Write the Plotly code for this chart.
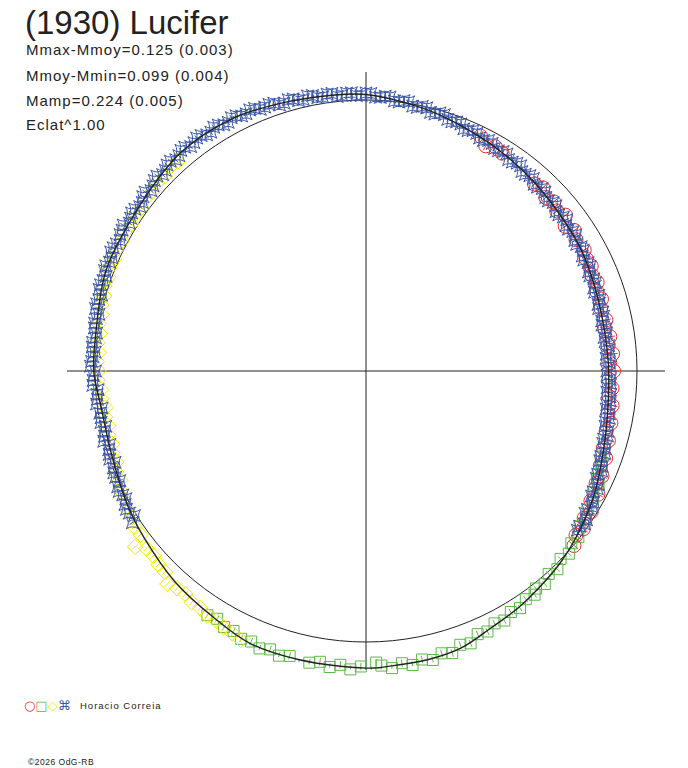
import plotly.graph_objects as go

# Polar light curve of (1930) Lucifer.
# Angles in degrees (phase * 360, 0 at top, clockwise), dm = mag - Mmoy.
fit_deg = [0, 12, 20, 30, 40, 50, 60, 69, 77, 88, 98, 109, 119, 129, 135, 141,
           147, 154, 161, 168, 175, 180, 193, 203, 212, 222, 233, 240, 251, 262,
           270, 279, 288, 293, 308, 320, 332, 342, 353, 360]
fit_dm = [-0.022, 0.008, 0.029, 0.052, 0.072, 0.090, 0.100, 0.114, 0.122, 0.121,
          0.112, 0.084, 0.045, 0.010, -0.009, -0.024, -0.041, -0.057, -0.084,
          -0.093, -0.096, -0.100, -0.097, -0.096, -0.072, -0.053, -0.026, -0.012,
          0.012, 0.015, -0.005, -0.008, -0.025, -0.032, -0.039, -0.060, -0.057,
          -0.040, -0.027, -0.022]

red_deg = [26, 28, 30, 32, 42, 44, 46, 48, 50, 52, 54, 56, 58, 61, 63, 65, 67, 69,
           71, 73, 75, 78, 80, 82, 84, 86, 88, 90, 92, 94, 96, 98, 100, 102, 104,
           106, 108, 110, 112, 114, 116, 118, 120, 122, 124, 126, 128, 130]
red_dm = [0.040, 0.066, 0.050, 0.058, 0.080, 0.068, 0.088, 0.076, 0.092, 0.074,
          0.104, 0.082, 0.098, 0.090, 0.100, 0.094, 0.108, 0.098, 0.114, 0.104,
          0.118, 0.108, 0.120, 0.104, 0.116, 0.100, 0.114, 0.098, 0.118, 0.102,
          0.112, 0.094, 0.106, 0.086, 0.098, 0.078, 0.090, 0.066, 0.076, 0.052,
          0.062, 0.034, 0.046, 0.022, 0.032, 0.010, 0.018, -0.002]

green_deg = [110, 112, 114, 116, 118, 120, 122, 124, 126, 128, 130, 132, 134, 136,
             138, 140, 142, 143, 145, 147, 149, 151, 153, 155, 157, 159, 161, 163,
             165, 167, 169, 171, 173, 175, 177, 178, 179, 181, 183, 185, 187, 189,
             191, 193, 195, 197, 199, 201, 203, 205, 207, 209, 211, 213]
green_dm = [0.088, 0.070, 0.072, 0.050, 0.056, 0.036, 0.040, 0.022, 0.028, 0.006,
            0.012, -0.008, 0.002, -0.018, -0.008, -0.028, -0.020, -0.036, -0.030,
            -0.046, -0.040, -0.056, -0.048, -0.064, -0.058, -0.080, -0.072, -0.092,
            -0.082, -0.098, -0.088, -0.102, -0.090, -0.104, -0.092, -0.080, -0.108,
            -0.094, -0.106, -0.092, -0.104, -0.090, -0.100, -0.108, -0.092, -0.102,
            -0.090, -0.100, -0.088, -0.094, -0.080, -0.084, -0.070, -0.078]

yellow_deg = [205, 207, 209, 211, 213, 215, 217, 219, 221, 223, 225, 227, 229, 231,
              232.7, 234, 236, 238, 240, 242, 244, 246, 248, 250, 252, 254, 256,
              258, 260, 262, 264, 266, 268, 270, 272, 274, 276, 278, 280, 282, 284,
              286, 288, 290, 292, 294, 296, 298, 300, 302, 304, 306, 308, 310, 312,
              314, 316, 318]
yellow_dm = [-0.098, -0.090, -0.086, -0.078, -0.080, -0.070, -0.072, -0.062, -0.066,
             -0.078, -0.052, -0.050, -0.042, -0.044, -0.074, -0.030, -0.032, -0.020,
             -0.022, -0.010, -0.008, 0.008, 0.006, 0.022, 0.018, 0.028, 0.022,
             0.030, 0.024, 0.032, 0.020, 0.022, 0.010, 0.014, 0.006, 0.012, 0.004,
             0.008, -0.002, 0.002, -0.008, -0.006, -0.016, -0.012, -0.022, -0.018,
             -0.026, -0.022, -0.030, -0.024, -0.032, -0.026, -0.036, -0.032, -0.040,
             -0.036, -0.046, -0.042]

blue_deg = [237, 239, 241, 243, 245, 247, 249, 251, 253, 255, 257, 259, 261, 263,
            265, 267, 269, 271, 273, 275, 277, 279, 281, 283, 285, 287, 289, 291,
            293, 295, 297, 299, 301, 303, 305, 307, 309, 311, 313, 315, 317, 319,
            321, 323, 325, 327, 329, 331, 333, 335, 337, 339, 341, 343, 345, 347,
            349, 351, 353, 355, 357, 359, 1, 3, 5, 7, 9, 11, 13, 15, 17, 19, 21, 23,
            25, 27, 29, 31, 33, 35, 37, 39, 41, 43, 45, 47, 49, 51, 53, 55, 57, 59,
            61, 63, 65, 67, 69, 71, 73, 75, 77, 79, 81, 83, 85, 87, 89, 91, 93, 95,
            97, 99, 101, 103, 105, 107, 109, 111, 113, 115, 117, 119, 121, 123, 125,
            127,
            238, 240, 242, 244, 246, 248, 250, 252, 254, 256, 258, 260, 262, 264,
            266, 268, 270, 272, 274, 276, 278, 280, 282, 284, 286, 288, 290, 292,
            294, 296, 298, 300, 302, 304, 306, 308, 310, 312, 314, 316, 318, 320,
            322, 324, 326, 328, 330, 332, 334, 336, 338, 340, 342, 344, 346, 348,
            350, 352, 354, 356, 358, 0, 2, 4, 6, 8, 10, 12, 14, 16, 18, 20, 22, 24,
            26, 28, 30, 32, 34, 36, 38, 40, 42, 44, 46, 48, 50, 52, 54, 56, 58, 60,
            62, 64, 66, 68, 70, 72, 74, 76, 78, 80, 82, 84, 86, 88, 90, 92, 94, 96,
            98, 100, 102, 104, 106, 108, 110, 112, 114, 116, 118, 120, 122, 124, 126]
blue_dm = [-0.030, -0.020, -0.018, -0.008, -0.012, -0.004, 0.001, 0.000, 0.008,
           -0.002, 0.010, 0.004, 0.006, -0.002, 0.004, -0.010, -0.006, -0.018,
           -0.010, -0.015, -0.006, -0.016, -0.014, -0.026, -0.022, -0.032, -0.028,
           -0.036, -0.030, -0.042, -0.036, -0.040, -0.048, -0.038, -0.044, -0.036,
           -0.052, -0.044, -0.058, -0.050, -0.062, -0.056, -0.066, -0.058, -0.064,
           -0.054, -0.062, -0.052, -0.060, -0.050, -0.056, -0.046, -0.048, -0.036,
           -0.042, -0.030, -0.038, -0.026, -0.034, -0.022, -0.030, -0.018, -0.026,
           -0.012, -0.016, 0.000, -0.006, 0.010, 0.004, 0.020, 0.012, 0.030, 0.026,
           0.040, 0.036, 0.050, 0.044, 0.058, 0.050, 0.066, 0.058, 0.074, 0.066,
           0.082, 0.074, 0.090, 0.080, 0.096, 0.082, 0.100, 0.088, 0.106, 0.094,
           0.112, 0.100, 0.118, 0.106, 0.124, 0.110, 0.128, 0.114, 0.130, 0.116,
           0.128, 0.114, 0.130, 0.112, 0.127, 0.110, 0.124, 0.105, 0.118, 0.098,
           0.108, 0.088, 0.098, 0.076, 0.086, 0.062, 0.070, 0.046, 0.054, 0.030,
           0.040, 0.018, 0.026,
           -0.008, -0.022, -0.004, -0.014, 0.006, -0.004, 0.016, 0.004, 0.018,
           0.006, 0.020, 0.008, 0.018, 0.004, 0.010, -0.008, 0.002, -0.014, -0.002,
           -0.016, -0.004, -0.018, -0.008, -0.026, -0.016, -0.032, -0.022, -0.038,
           -0.028, -0.040, -0.030, -0.042, -0.032, -0.046, -0.034, -0.048, -0.038,
           -0.054, -0.046, -0.060, -0.052, -0.066, -0.054, -0.066, -0.054, -0.064,
           -0.052, -0.062, -0.050, -0.058, -0.044, -0.050, -0.034, -0.044, -0.030,
           -0.040, -0.026, -0.034, -0.020, -0.030, -0.018, -0.028, -0.012, -0.018,
           -0.002, -0.008, 0.008, 0.002, 0.018, 0.010, 0.026, 0.024, 0.040, 0.032,
           0.048, 0.040, 0.058, 0.050, 0.066, 0.058, 0.074, 0.066, 0.082, 0.072,
           0.088, 0.080, 0.096, 0.086, 0.100, 0.090, 0.104, 0.094, 0.110, 0.100,
           0.116, 0.106, 0.122, 0.110, 0.126, 0.114, 0.128, 0.116, 0.130, 0.114,
           0.128, 0.116, 0.128, 0.112, 0.124, 0.108, 0.118, 0.100, 0.110, 0.090,
           0.100, 0.080, 0.088, 0.066, 0.072, 0.050, 0.056, 0.034, 0.040, 0.020,
           0.028]

# typical 1-sigma error per session (mag)
red_err, green_err, yellow_err, blue_err = 0.022, 0.014, 0.014, 0.012

info_lines = ["Mmax-Mmoy=0.125 (0.003)", "Mmoy-Mmin=0.099 (0.004)",
              "Mamp=0.224 (0.005)", "Eclat^1.00"]

W, H = 688, 768


def px(x):
    return x / W


def py(y):
    return 1 - y / H


def flux(dm):
    # Eclat^1.00 : radius proportional to flux relative to Mmoy
    return [10 ** (-0.4 * m) for m in dm]


fig = go.Figure()

series = [
    (red_deg, red_dm, red_err, "circle-open", 14, "#ee2a2a"),
    (green_deg, green_dm, green_err, "square-open", 11, "#5cb946"),
    (yellow_deg, yellow_dm, yellow_err, "diamond-open", 12, "#f5e800"),
    (blue_deg, blue_dm, blue_err, "star-square-open", 11, "#3a56a8"),
]
for deg, dm, err, sym, size, col in series:
    # radial error bars
    eb_t, eb_r = [], []
    for d, m in zip(deg, dm):
        eb_t += [d, d, None]
        eb_r += [10 ** (-0.4 * (m + err)), 10 ** (-0.4 * (m - err)), None]
    fig.add_trace(go.Scatterpolar(
        theta=eb_t, r=eb_r, mode="lines", line=dict(color=col, width=1),
        connectgaps=False, showlegend=False, hoverinfo="skip"))
    fig.add_trace(go.Scatterpolar(
        theta=deg, r=flux(dm), mode="markers",
        marker=dict(symbol=sym, size=size, color=col, line=dict(width=1, color=col)),
        showlegend=False, hoverinfo="skip"))

fig.add_trace(go.Scatterpolar(
    theta=fit_deg, r=flux(fit_dm), mode="lines",
    line=dict(color="#222222", width=1.4, shape="spline"),
    showlegend=False, hoverinfo="skip"))

fig.update_layout(
    width=W, height=H,
    margin=dict(l=0, r=0, t=0, b=0),
    paper_bgcolor="white",
    font=dict(family="Liberation Sans, Arial, sans-serif", color="#222222"),
    polar=dict(
        domain=dict(x=[px(67), px(665)], y=[py(670), py(72)]),
        bgcolor="white",
        angularaxis=dict(rotation=90, direction="clockwise", tickmode="array",
                         tickvals=[0, 90, 180, 270], showticklabels=False, ticks="",
                         showline=False, showgrid=True, gridcolor="#222222",
                         gridwidth=1),
        radialaxis=dict(range=[0, 1.1033], tickmode="array", tickvals=[1],
                        showticklabels=False, ticks="", showline=False,
                        showgrid=True, gridcolor="#222222", gridwidth=1),
    ),
)

fig.add_annotation(text="(1930) Lucifer", x=px(23), y=py(23),
                   xref="paper", yref="paper", xanchor="left", yanchor="middle",
                   showarrow=False, font=dict(size=33, color="#222222"))
for i, line in enumerate(info_lines):
    fig.add_annotation(text=f"<span style='letter-spacing:1px'>{line}</span>",
                       x=px(24), y=py(50 + 25 * i),
                       xref="paper", yref="paper", xanchor="left", yanchor="middle",
                       showarrow=False, font=dict(size=15, color="#222222"))

legend_syms = [("○", "#ee2a2a"), ("□", "#5cb946"), ("◇", "#f5e800"),
               ("⌘", "#3a56a8")]
sym_text = "".join(f"<span style='color:{c}'>{ch}</span>" for ch, c in legend_syms)
fig.add_annotation(text=sym_text, x=px(22), y=py(705), xref="paper",
                   yref="paper", xanchor="left", yanchor="middle",
                   showarrow=False, font=dict(family="DejaVu Sans", size=13))
fig.add_annotation(text="<span style='letter-spacing:1px'>Horacio Correia</span>",
                   x=px(78), y=py(705), xref="paper", yref="paper",
                   xanchor="left", yanchor="middle", showarrow=False,
                   font=dict(size=9.5, color="#222222"))
fig.add_annotation(text="<span style='letter-spacing:0.5px'>©2026 OdG-RB</span>",
                   x=px(26), y=py(762), xref="paper", yref="paper",
                   xanchor="left", yanchor="middle", showarrow=False,
                   font=dict(size=8.5, color="#222222"))

# drop the default 8 px body margin so the figure fills the window exactly
fig.write_html("out.html", config={"displayModeBar": False},
               post_script="document.body.style.margin='0px';")
